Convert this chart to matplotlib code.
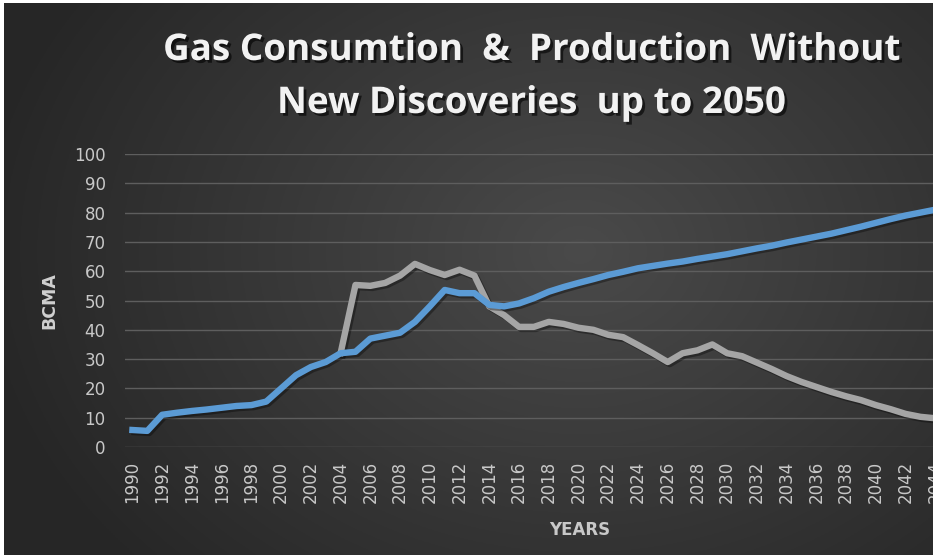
import numpy as np
import matplotlib.pyplot as plt
import matplotlib.patheffects as pe

years = list(range(1990, 2046))

# consumption (blue)
consumption = [5.8, 5.5, 11.0, 11.7, 12.3, 12.8, 13.4, 14.0, 14.3, 15.5,
               20.0, 24.5, 27.3, 29.0, 32.0, 32.5, 37.0, 38.0, 39.0, 42.7,
               48.0, 53.6, 52.5, 52.5, 48.5, 48.0, 49.0, 50.8, 53.0, 54.6,
               56.0, 57.3, 58.7, 59.8, 61.0, 61.8, 62.6, 63.3, 64.2, 65.0,
               65.8, 66.8, 67.8, 68.7, 69.8, 70.8, 71.8, 72.8, 74.0, 75.2,
               76.5, 77.8, 79.0, 80.0, 81.0, 82.0]

# production (grey), same as consumption until 2004
production = [None] * 14 + [
               32.0, 55.3, 55.0, 56.0, 58.5, 62.5,
               60.4, 58.7, 60.5, 58.5, 48.0, 45.0, 41.0, 41.0, 42.7, 42.0,
               40.7, 40.0, 38.3, 37.5, 34.8, 32.0, 29.0, 32.0, 33.0, 35.0,
               32.0, 31.0, 28.8, 26.6, 24.2, 22.2, 20.5, 18.8, 17.3, 16.0,
               14.3, 12.9, 11.3, 10.3, 9.8, 9.5]
production = [np.nan if v is None else v for v in production]

yticks = list(range(0, 101, 10))
xticks = list(range(1990, 2051, 2))

W, H = 933, 557
fig = plt.figure(figsize=(W / 100, H / 100), dpi=100, facecolor="white")

# dark radial background (inset leaves a thin white border top/left/bottom)
bg = fig.add_axes([4 / W, 2 / H, 1 - 4 / W, 1 - 5 / H])
gx, gy = np.meshgrid(np.linspace(0, 1, 400), np.linspace(0, 1, 300))
r = np.sqrt(((gx - 0.62) * 1.3) ** 2 + (gy - 0.45) ** 2)
r = np.clip(r / 0.85, 0, 1)
val = 0.29 - 0.14 * r
bg.imshow(np.dstack([val, val, val]), aspect="auto", extent=[0, 1, 0, 1], origin="upper")
bg.axis("off")

ax = fig.add_axes([125 / W, 110 / H, 907 / W, 293 / H])
ax.set_facecolor("none")

shadow = [pe.SimpleLineShadow(offset=(1.5, -1.5), shadow_color="black", alpha=0.35), pe.Normal()]
ax.plot(years, production, color="#a5a5a5", lw=4.6, solid_joinstyle="round",
        path_effects=shadow, zorder=3)
ax.plot(years, consumption, color="#5b9bd5", lw=4.6, solid_joinstyle="round",
        path_effects=shadow, zorder=4)

ax.set_xlim(1989.5, 2050.5)
ax.set_ylim(0, 100)
ax.set_yticks(yticks)
ax.set_xticks(xticks)
ax.set_xticklabels([str(x) for x in xticks], rotation=90)
ax.tick_params(axis="both", length=0, colors="#c8c8c8", labelsize=12)
ax.tick_params(axis="x", pad=10)
ax.tick_params(axis="y", pad=14)
ax.grid(axis="y", color="#5e5e5e", lw=1)
ax.set_axisbelow(True)
for s in ax.spines.values():
    s.set_visible(False)

fig.text(49 / W, 1 - 301 / H, "BCMA", rotation=90, ha="center", va="center",
         color="#d0d0d0", fontsize=12.5, fontweight="bold")
fig.text(580 / W, 1 - 530 / H, "YEARS", ha="center", va="center",
         color="#c8c8c8", fontsize=12, fontweight="bold")

tshadow = [pe.withSimplePatchShadow(offset=(2, -2), shadow_rgbFace="black", alpha=0.6)]
fig.text(531 / W, 1 - 50 / H, "Gas Consumtion  &  Production  Without", ha="center",
         va="center", color="#f2f2f2", fontsize=26.5, fontweight="bold",
         family="Open Sans", path_effects=tshadow)
fig.text(531 / W, 1 - 103 / H, "New Discoveries  up to 2050", ha="center",
         va="center", color="#f2f2f2", fontsize=26.5, fontweight="bold",
         family="Open Sans", path_effects=tshadow)

fig.savefig("out.png", dpi=100, facecolor=fig.get_facecolor())
